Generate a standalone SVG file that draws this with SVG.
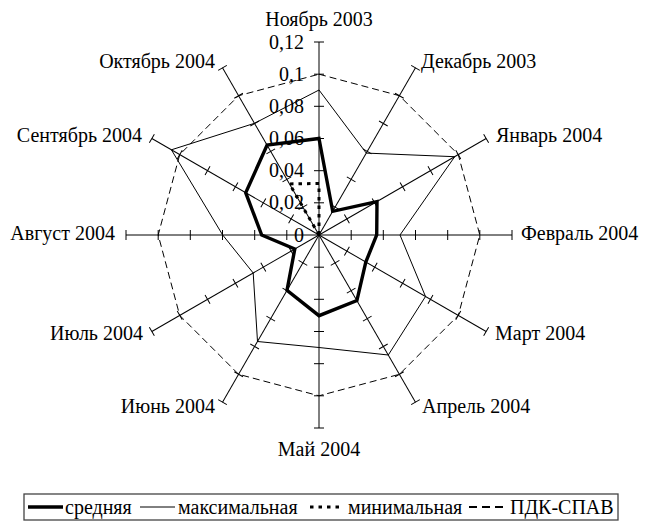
<svg xmlns="http://www.w3.org/2000/svg" xmlns:xlink="http://www.w3.org/1999/xlink" width="650" height="522" viewBox="0 0 650 522">
<style>
text{font-family:"Liberation Serif","Times New Roman",serif;font-size:20px;fill:#000}
.ax{stroke:#000;stroke-width:1;fill:none}
.avg{stroke:#000;stroke-width:3.4;fill:none;stroke-linejoin:miter}
.max{stroke:#000;stroke-width:1;fill:none}
.min{stroke:#000;stroke-width:3;fill:none;stroke-dasharray:3.5 5}
.pdk{stroke:#000;stroke-width:1;fill:none;stroke-dasharray:7 4}
.e{text-anchor:end}.m{text-anchor:middle}
</style>
<defs>
<g id="axis">
<line class="ax" x1="319" y1="235" x2="319" y2="42"/>
<path class="ax" d="M314 202.8H324M314 170.7H324M314 138.5H324M314 106.3H324M314 74.2H324M314 42H324"/>
</g>
</defs>
<rect width="650" height="522" fill="#fff"/>
<g id="axes">
<use xlink:href="#axis"/>
<use xlink:href="#axis" transform="rotate(30 319 235)"/>
<use xlink:href="#axis" transform="rotate(60 319 235)"/>
<use xlink:href="#axis" transform="rotate(90 319 235)"/>
<use xlink:href="#axis" transform="rotate(120 319 235)"/>
<use xlink:href="#axis" transform="rotate(150 319 235)"/>
<use xlink:href="#axis" transform="rotate(180 319 235)"/>
<use xlink:href="#axis" transform="rotate(210 319 235)"/>
<use xlink:href="#axis" transform="rotate(240 319 235)"/>
<use xlink:href="#axis" transform="rotate(270 319 235)"/>
<use xlink:href="#axis" transform="rotate(300 319 235)"/>
<use xlink:href="#axis" transform="rotate(330 319 235)"/>
</g>
<g id="scale">
<text class="e" x="304" y="48.5">0,12</text>
<text class="e" x="304" y="80.7">0,1</text>
<text class="e" x="304" y="112.8">0,08</text>
<text class="e" x="304" y="145">0,06</text>
<text class="e" x="304" y="177.2">0,04</text>
<text class="e" x="304" y="209.3">0,02</text>
<text class="e" x="304" y="241.5">0</text>
</g>
<g id="labels">
<text class="m" x="319" y="26">Ноябрь 2003</text>
<text x="421" y="68">Декабрь 2003</text>
<text x="496" y="142">Январь 2004</text>
<text x="521" y="240">Февраль 2004</text>
<text x="495" y="340">Март 2004</text>
<text x="422" y="413">Апрель 2004</text>
<text class="m" x="319" y="456">Май 2004</text>
<text class="e" x="215" y="413">Июнь 2004</text>
<text class="e" x="143" y="340">Июль 2004</text>
<text class="e" x="115" y="240">Август 2004</text>
<text class="e" x="142" y="142">Сентябрь 2004</text>
<text class="e" x="215" y="68">Октябрь 2004</text>
</g>
<g id="series">
<polygon id="pdk" class="pdk" points="319,74.2 399.4,95.7 458.3,154.6 479.8,235 458.3,315.4 399.4,374.3 319,395.8 238.6,374.3 179.7,315.4 158.2,235 179.7,154.6 238.6,95.7"/>
<polygon id="max" class="max" points="319,90 366.3,153.1 454.7,156.7 400,235 425.5,296.5 388.3,355 319,347.5 257.5,341.5 253.2,273 222.7,235 171.4,149.8 254.5,123.3"/>
<polyline id="min" class="min" points="319,235 289.5,183.9 319,183.5 319,235"/>
<polygon id="avg" class="avg" points="319,138.5 332.7,211.3 377,201.5 376.7,235 365.8,262 356.9,300.6 319,315.7 287,290.4 294.8,249 261.7,235 245.7,192.7 267.1,145.1"/>
</g>
<g id="legend">
<rect x="24" y="494" width="594" height="26" fill="#fff" stroke="#444" stroke-width="1.3"/>
<line x1="28" y1="507" x2="63" y2="507" stroke="#000" stroke-width="3.4"/>
<text x="65" y="514">средняя</text>
<line x1="140" y1="507" x2="175" y2="507" stroke="#000" stroke-width="1"/>
<text x="178" y="514">максимальная</text>
<line class="min" x1="310" y1="507" x2="344" y2="507"/>
<text x="348" y="514">минимальная</text>
<line x1="469" y1="507" x2="507" y2="507" stroke="#000" stroke-width="2" stroke-dasharray="8 5"/>
<text x="510" y="514">ПДК-СПАВ</text>
</g>
</svg>
